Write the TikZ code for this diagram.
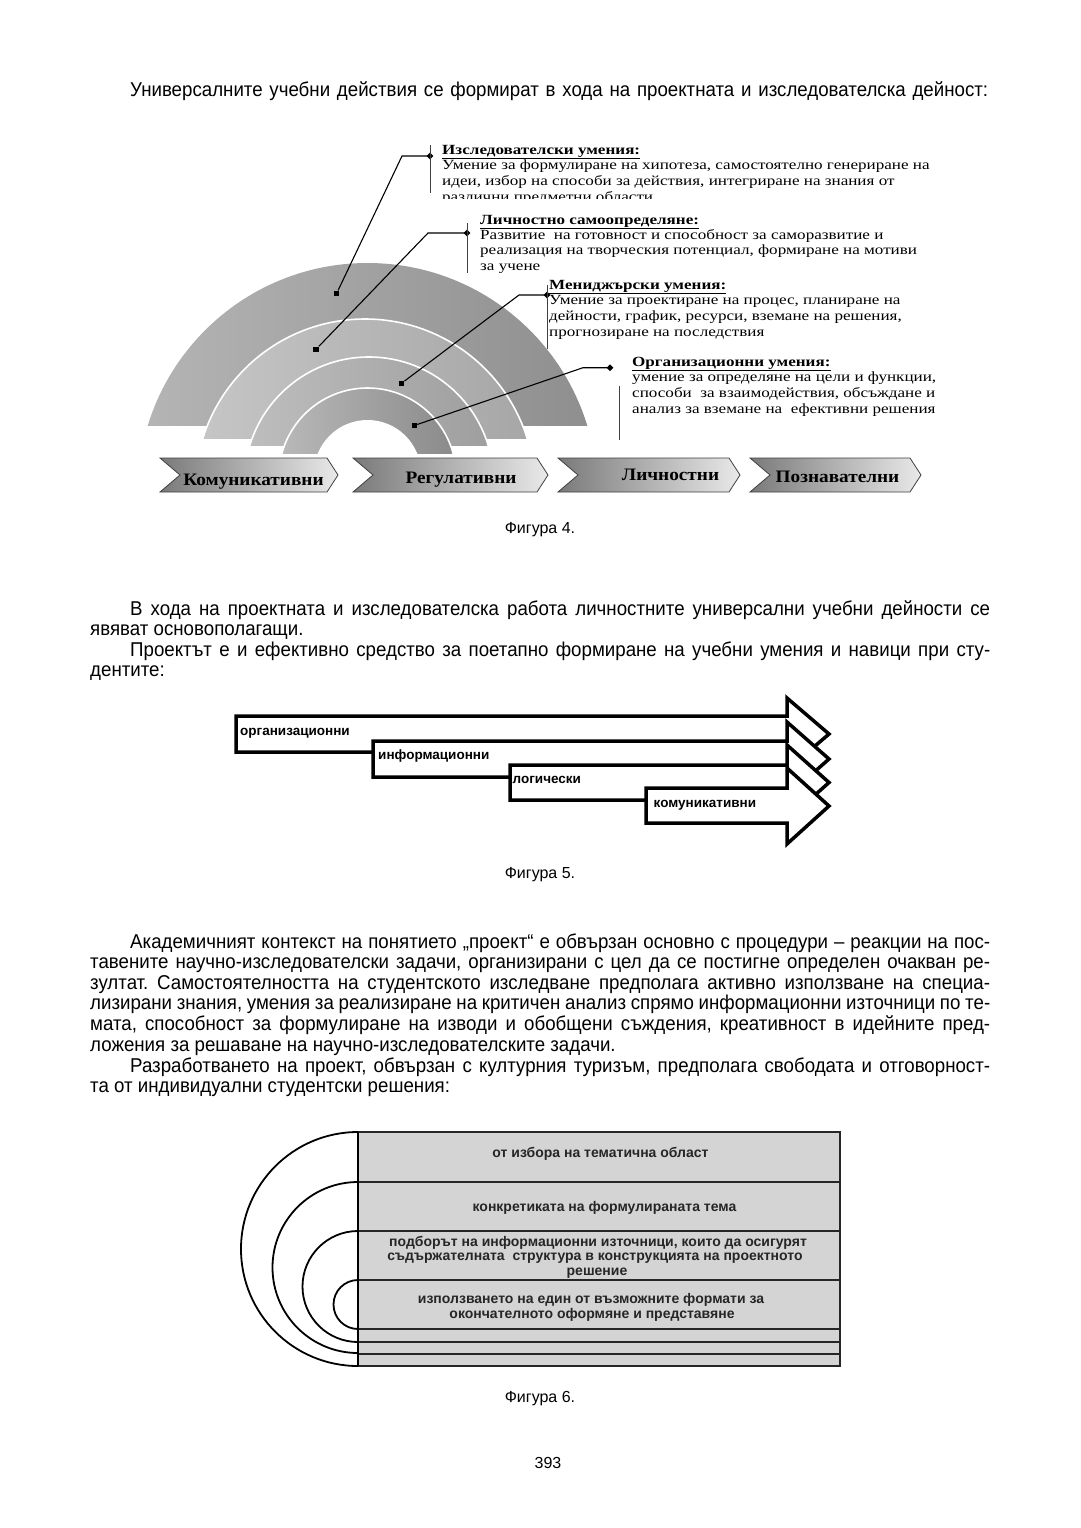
\documentclass[tikz,border=0pt]{standalone}
\usepackage{fontspec}
\setmainfont{Liberation Sans}
\usetikzlibrary{shapes.geometric}
\newfontfamily\bodyfont[FakeStretch=0.935]{Liberation Sans}
\newfontfamily\figserif[FakeStretch=1.22]{Liberation Serif}
\newfontfamily\chevserif[FakeStretch=1.1]{Liberation Serif}
\newfontfamily\figsans{Liberation Sans}
\newcommand\bodytext{\bodyfont\fontsize{20}{22}\selectfont\frenchspacing\spaceskip=0.26em plus 0.5em minus 0.1em\relax}
\newcommand\figtext{\figserif\fontsize{14}{15.5}\selectfont}
\newcommand\chevtext{\chevserif\fontsize{17.5}{19}\selectfont\bfseries}
\newcommand\arrtext{\figsans\fontsize{13.5}{15}\selectfont\bfseries}
\newcommand\rowtext{\figsans\fontsize{14}{14}\selectfont\bfseries\color{black!85}}
\newcommand\captext{\figsans\fontsize{16}{18}\selectfont}
\definecolor{ringAl}{HTML}{B5B5B5}\definecolor{ringAr}{HTML}{8E8E8E}
\definecolor{ringBl}{HTML}{C6C6C6}\definecolor{ringBr}{HTML}{A6A6A6}
\definecolor{ringCl}{HTML}{BEBEBE}\definecolor{ringCr}{HTML}{9E9E9E}
\definecolor{ringDl}{HTML}{B9B9B9}\definecolor{ringDr}{HTML}{8A8A8A}
\definecolor{chevL}{HTML}{7A7A7A}\definecolor{chevR}{HTML}{E9E9E9}
\definecolor{rowgray}{HTML}{D4D4D4}
\tikzset{
  txt/.style={anchor=base west, inner sep=0pt},
  ctxt/.style={anchor=base, inner sep=0pt},
  sqmark/.style={rectangle, fill=black, inner sep=0pt, minimum size=5.5pt},
  dmmark/.style={diamond, fill=black, inner sep=0pt, minimum size=7pt},
  leader/.style={draw=black, line width=1.1pt},
  bar/.style={draw=black!75, line width=0.9pt},
  chev/.style={left color=chevL, right color=chevR, draw=black!75, line width=0.8pt},
  bigarrow/.style={fill=white, draw=black, line width=3.5pt, line join=miter},
  fig6line/.style={draw=black!85, line width=1.2pt},
  fig6arc/.style={draw=black, line width=1.8pt}
}
\begin{document}
\begin{tikzpicture}[x=1pt,y=-1pt]
\useasboundingbox (0,0) rectangle (1080,1528);
\fill[white] (0,0) rectangle (1080,1528);

% ---------- body text ----------
\node[txt] (p0) at (130,96) {\hbox to 858pt{\bodytext Универсалните учебни действия се формират в хода на проектната и изследователска дейност:}};

\node[txt] (a1) at (130,615) {\hbox to 860pt{\bodytext В хода на проектната и изследователска работа личностните универсални учебни дейности се}};
\node[txt] (a2) at (90,635) {\bodytext явяват основополагащи.};
\node[txt] (b1) at (130,656) {\hbox to 860pt{\bodytext Проектът е и ефективно средство за поетапно формиране на учебни умения и навици при сту-}};
\node[txt] (b2) at (90,676) {\bodytext дентите:};

\node[txt] (c1) at (130,948) {\hbox to 860pt{\bodytext Академичният контекст на понятието „проект“ е обвързан основно с процедури – реакции на пос-}};
\node[txt] (c2) at (90,968) {\hbox to 900pt{\bodytext тавените научно-изследователски задачи, организирани с цел да се постигне определен очакван ре-}};
\node[txt] (c3) at (90,989) {\hbox to 900pt{\bodytext зултат. Самостоятелността на студентското изследване предполага активно използване на специа-}};
\node[txt] (c4) at (90,1009) {\hbox to 900pt{\bodytext лизирани знания, умения за реализиране на критичен анализ спрямо информационни източници по те-}};
\node[txt] (c5) at (90,1030) {\hbox to 900pt{\bodytext мата, способност за формулиране на изводи и обобщени съждения, креативност в идейните пред-}};
\node[txt] (c6) at (90,1051) {\bodytext ложения за решаване на научно-изследователските задачи.};
\node[txt] (d1) at (130,1072) {\hbox to 860pt{\bodytext Разработването на проект, обвързан с културния туризъм, предполага свободата и отговорност-}};
\node[txt] (d2) at (90,1092) {\bodytext та от индивидуални студентски решения:};

% ---------- Figure 4: rings ----------
\begin{scope}\clip (0,0) rectangle (1080,425);
\shade[left color=ringAl, right color=ringAr] (367.5,492.7) circle[radius=229.7];
\end{scope}
\begin{scope}\clip (0,0) rectangle (1080,438);
\shadedraw[left color=ringBl, right color=ringBr, draw=white, line width=1.6pt] (365,488.8) circle[radius=169.8];
\end{scope}
\begin{scope}\clip (0,0) rectangle (1080,445);
\shadedraw[left color=ringCl, right color=ringCr, draw=white, line width=1.6pt] (369,481.5) circle[radius=124.5];
\end{scope}
\begin{scope}\clip (0,0) rectangle (1080,453);
\shadedraw[left color=ringDl, right color=ringDr, draw=white, line width=1.6pt] (367.5,476.7) circle[radius=88.7];
\fill[white] (367.5,473.6) circle[radius=53.6];
\end{scope}

% leaders
\node[sqmark] (sq1) at (336.7,293.3) {};
\node[sqmark] (sq2) at (316,349.3) {};
\node[sqmark] (sq3) at (401.5,383.3) {};
\node[sqmark] (sq4) at (414.3,425.5) {};
\coordinate (b1) at (402,156);
\coordinate (b2) at (428,233);
\coordinate (b3) at (519,295);
\coordinate (b4) at (583,367.7);
\node[dmmark] (dm1) at (430,156) {};
\node[dmmark] (dm2) at (467,233) {};
\node[dmmark] (dm3) at (547,295) {};
\node[dmmark] (dm4) at (610,367.7) {};
\draw[leader] (sq1) -- (b1) -- (dm1.center);
\draw[leader] (sq2) -- (b2) -- (dm2.center);
\draw[leader] (sq3) -- (b3) -- (dm3.center);
\draw[leader] (sq4) -- (b4) -- (dm4.center);
\coordinate (v1a) at (430,145); \coordinate (v1b) at (430,193);
\coordinate (v2a) at (467,223); \coordinate (v2b) at (467,273);
\coordinate (v3a) at (547,285); \coordinate (v3b) at (547,349);
\coordinate (v4a) at (619,386); \coordinate (v4b) at (619,440);
\draw[bar] (v1a) -- (v1b);
\draw[bar] (v2a) -- (v2b);
\draw[bar] (v3a) -- (v3b);
\draw[bar] (v4a) -- (v4b);

% text blocks
\begin{scope}
\clip (435,138) rectangle (945,198.5);
\node[txt] (t1h) at (442,154) {\figtext\underline{\textbf{Изследователски умения:}}};
\node[txt] (t1a) at (442,169.5) {\figtext Умение за формулиране на хипотеза, самостоятелно генериране на};
\node[txt] (t1b) at (442,185) {\figtext идеи, избор на способи за действия, интегриране на знания от};
\node[txt] (t1c) at (442,201.5) {\figtext различни предметни области};
\end{scope}
\node[txt] (t2h) at (480,224) {\figtext\underline{\textbf{Личностно самоопределяне:}}};
\node[txt] (t2a) at (480,239) {\figtext Развитие\ \ на готовност и способност за саморазвитие и};
\node[txt] (t2b) at (480,254.5) {\figtext реализация на творческия потенциал, формиране на мотиви};
\node[txt] (t2c) at (480,270) {\figtext за учене};
\node[txt] (t3h) at (549,289) {\figtext\underline{\textbf{Мениджърски умения:}}};
\node[txt] (t3a) at (549,304.5) {\figtext Умение за проектиране на процес, планиране на};
\node[txt] (t3b) at (549,320.5) {\figtext дейности, график, ресурси, вземане на решения,};
\node[txt] (t3c) at (549,336.5) {\figtext прогнозиране на последствия};
\node[txt] (t4h) at (632,366) {\figtext\underline{\textbf{Организационни умения:}}};
\node[txt] (t4a) at (632,381) {\figtext умение за определяне на цели и функции,};
\node[txt] (t4b) at (632,397) {\figtext способи\ \ за взаимодействия, обсъждане и};
\node[txt] (t4c) at (632,413) {\figtext анализ за вземане на\ \ ефективни решения};

% chevrons
\shadedraw[chev] (160,458) -- (327,458) -- (338,475) -- (327,492) -- (160,492) -- (180,475) -- cycle;
\shadedraw[chev] (353,458) -- (537,458) -- (548,475) -- (537,492) -- (353,492) -- (373,475) -- cycle;
\shadedraw[chev] (558,458) -- (729,458) -- (740,475) -- (729,492) -- (558,492) -- (578,475) -- cycle;
\shadedraw[chev] (750,458) -- (910,458) -- (921,475) -- (910,492) -- (750,492) -- (770,475) -- cycle;
\node[ctxt] (ch1) at (253.5,485) {\chevtext Комуникативни};
\node[ctxt] (ch2) at (461,483) {\chevtext Регулативни};
\node[ctxt] (ch3) at (670.5,480) {\chevtext Личностни};
\node[ctxt] (ch4) at (837.5,482) {\chevtext Познавателни};

\node[ctxt] (cap4) at (540,533) {\captext Фигура 4.};

% ---------- Figure 5 ----------
\draw[bigarrow] (236,716) -- (787,716) -- (787,698) -- (829,734) -- (787,770) -- (787,752) -- (236,752) -- cycle;
\draw[bigarrow] (373,741) -- (787,741) -- (787,722) -- (829,759) -- (787,796) -- (787,777) -- (373,777) -- cycle;
\draw[bigarrow] (510,765) -- (787,765) -- (787,745) -- (829,782.5) -- (787,820) -- (787,800) -- (510,800) -- cycle;
\draw[bigarrow] (646,788) -- (787,788) -- (787,768) -- (829,806) -- (787,844) -- (787,823) -- (646,823) -- cycle;
\node[txt] (ar1) at (240,735.5) {\arrtext организационни};
\node[txt] (ar2) at (378,759) {\arrtext информационни};
\node[txt] (ar3) at (512.5,783) {\arrtext логически};
\node[txt] (ar4) at (653.5,807) {\arrtext комуникативни};

\node[ctxt] (cap5) at (540,878) {\captext Фигура 5.};

% ---------- Figure 6 ----------
\fill[rowgray] (358,1132) rectangle (840,1366);
\draw[fig6line] (358,1132) rectangle (840,1366);
\foreach \yy in {1182,1231,1280,1329,1342,1354} {\draw[fig6line] (358,\yy) -- (840,\yy);}
\begin{scope}
\clip (200,1100) rectangle (358,1400);
\draw[fig6arc] (358,1249) circle[radius=117];
\draw[fig6arc] (358,1267.5) circle[radius=85.5];
\draw[fig6arc] (358,1286.5) circle[radius=55.5];
\draw[fig6arc] (358,1304.5) circle[radius=24.5];
\end{scope}
\draw[black, line width=2pt] (358,1132) -- (358,1366);
\node[ctxt] (r1) at (600.5,1157) {\rowtext от избора на тематична област};
\node[ctxt] (r2) at (604.5,1211.5) {\rowtext конкретиката на формулираната тема};
\node[ctxt] (r3a) at (598,1246) {\rowtext подборът на информационни източници, които да осигурят};
\node[ctxt] (r3b) at (595,1260.5) {\rowtext съдържателната\ \ структура в конструкцията на проектното};
\node[ctxt] (r3c) at (597,1275) {\rowtext решение};
\node[ctxt] (r4a) at (591,1303) {\rowtext използването на един от възможните формати за};
\node[ctxt] (r4b) at (592,1318) {\rowtext окончателното оформяне и представяне};

\node[ctxt] (cap6) at (540,1402) {\captext Фигура 6.};
\node[ctxt] (pnum) at (548,1468) {\captext 393};
\end{tikzpicture}
\end{document}
